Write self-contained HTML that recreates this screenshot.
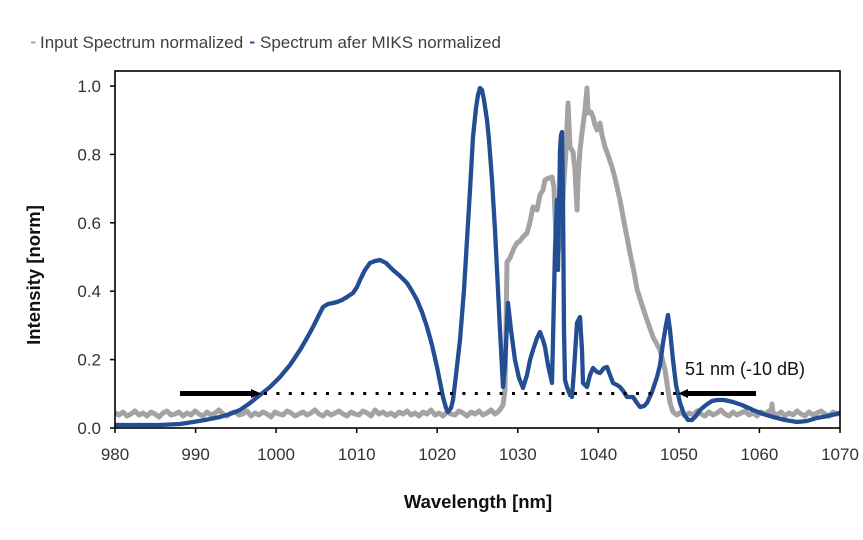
<!DOCTYPE html>
<html>
<head>
<meta charset="utf-8">
<style>
  html,body{margin:0;padding:0;background:#fff;}
  svg{display:block;}
  text{font-family:"Liberation Sans",Arial,sans-serif;}
</style>
</head>
<body>
<svg width="863" height="540" viewBox="0 0 863 540" xmlns="http://www.w3.org/2000/svg">
  <rect width="863" height="540" fill="#fff"/>

  <!-- Legend -->
  <rect x="31" y="41.5" width="4.5" height="2" fill="#a3a3a3"/>
  <text x="40" y="48" font-size="17" fill="#404040">Input Spectrum normalized</text>
  <rect x="250" y="41.5" width="4.5" height="2" fill="#234e93"/>
  <text x="260" y="48" font-size="17" fill="#404040">Spectrum afer MIKS normalized</text>

  <!-- Gray input spectrum -->
  <polyline fill="none" stroke="#a3a3a3" stroke-width="5" stroke-linejoin="round" points="
    115,413 119,415 123,412 127,416 131,414 135,411 139,415 143,413 147,416 151,412 155,414 159,417 163,413 167,411 171,415 175,414 179,412 183,416 187,413 191,415 195,411 199,414 203,416 207,412 211,415 215,413 219,410 223,414 227,416 231,413 235,412 239,415 243,414 247,411 251,416 255,413 259,415 263,412 267,414 271,417 275,412 279,414 283,415 287,411 291,413 295,416 299,414 303,412 307,415 311,413 315,410 319,414 323,416 327,412 331,415 335,413 339,411 343,414 347,416 351,412 355,414 359,415 363,411 367,413 371,416 375,410 379,414 383,412 387,415 391,413 395,416 399,412 403,414 407,411 411,415 415,413 419,416 423,412 427,414 431,410 435,415 439,413 443,416 447,412 451,414 455,415 459,411 463,413 467,416 471,412 475,414 479,411 483,415 487,413 491,410 495,414 499,411 503,405 505,390 506,330 507,262 510,258 514,248 517,243 520,241 523,237 527,233 530,222 533,207 537,210 540,195 543,190 545,180 549,178 552,177 554,187 556,240 558,253 561,230 564,180 566,150 568,103 570,147 573,152 575,170 577,210 578,180 580,150 582,133 585,110 587,88 588,113 591,112 593,117 595,125 597,130 600,123 602,135 605,147 608,155 612,167 615,178 617,187 620,200 624,222 627,237 630,253 634,272 637,289 642,305 647,320 653,337 660,350 665,370 668,390 670,403 673,412 677,415 681,412 685,416 689,413 693,415 697,411 701,414 705,416 709,412 713,415 717,413 721,410 725,414 729,416 733,412 737,415 741,413 745,411 749,415 753,413 757,416 761,412 765,414 769,411 771,412 772,404 773,413 777,415 781,412 785,416 789,413 793,415 797,411 801,414 805,416 809,412 813,415 817,413 821,411 825,414 829,416 833,412 837,414 840,413"/>

  <!-- Blue after MIKS -->
  <polyline fill="none" stroke="#234e93" stroke-width="4.3" stroke-linejoin="round" points="
    115,425 140,425 160,425 180,424 193,422 205,420 220,417 230,414 240,410 250,403 260,395 270,387 280,377 290,365 300,350 307,338 313,327 318,317 323,307 328,304 333,303 337,302 342,300 347,297 353,293 357,287 360,280 365,270 370,263 375,261 380,260 386,263 393,270 400,276 407,283 412,291 417,300 422,312 427,327 432,345 437,367 440,382 443,397 446,408 448,412 451,408 453,400 456,375 460,340 464,290 467,240 470,190 473,137 476,108 478,95 480,88 482,90 484,100 487,120 489,140 492,180 495,230 497,270 500,330 503,387 505,365 508,303 511,330 515,360 519,378 523,388 527,375 530,360 533,350 537,338 540,332 543,340 545,347 548,365 552,383 553,340 555,250 557,200 558,270 559,210 560,150 561,135 562,132 563,200 564,330 565,380 567,387 570,395 572,397 574,370 577,323 580,317 582,350 583,383 587,387 590,375 593,368 597,372 600,373 604,368 607,367 610,375 613,383 617,385 620,387 624,392 627,397 633,397 637,403 640,407 644,406 647,403 652,392 657,377 660,365 663,343 666,325 668,315 670,330 673,360 676,385 680,403 684,414 688,420 692,420 696,416 700,410 706,405 712,401 717,400 724,400 733,402 742,405 753,410 763,414 773,417 785,420 797,422 807,421 817,418 828,416 840,413"/>

  <!-- Dotted -10 dB line -->
  <line x1="264" y1="393.5" x2="676" y2="393.5" stroke="#000" stroke-width="3" stroke-dasharray="3 9.4"/>

  <!-- Left arrow -->
  <line x1="180" y1="393.5" x2="253" y2="393.5" stroke="#000" stroke-width="5"/>
  <polygon points="251,389 261,393.5 251,398" fill="#000"/>
  <!-- Right arrow -->
  <line x1="686" y1="393.5" x2="756" y2="393.5" stroke="#000" stroke-width="5"/>
  <polygon points="688,389 678,393.5 688,398" fill="#000"/>

  <text x="685" y="375" font-size="18" fill="#111">51 nm (-10 dB)</text>

  <!-- Frame -->
  <rect x="115" y="71" width="725" height="357" fill="none" stroke="#000" stroke-width="1.6"/>

  <!-- Y ticks -->
  <g stroke="#000" stroke-width="1.5">
    <line x1="110" y1="428" x2="115" y2="428"/>
    <line x1="110" y1="359.6" x2="115" y2="359.6"/>
    <line x1="110" y1="291.2" x2="115" y2="291.2"/>
    <line x1="110" y1="222.8" x2="115" y2="222.8"/>
    <line x1="110" y1="154.4" x2="115" y2="154.4"/>
    <line x1="110" y1="86" x2="115" y2="86"/>
  </g>
  <g font-size="17" fill="#333" text-anchor="end">
    <text x="101" y="434">0.0</text>
    <text x="101" y="365.6">0.2</text>
    <text x="101" y="297.2">0.4</text>
    <text x="101" y="228.8">0.6</text>
    <text x="101" y="160.4">0.8</text>
    <text x="101" y="92">1.0</text>
  </g>

  <!-- X ticks -->
  <g stroke="#000" stroke-width="1.5">
    <line x1="115" y1="428" x2="115" y2="433"/>
    <line x1="195.6" y1="428" x2="195.6" y2="433"/>
    <line x1="276.1" y1="428" x2="276.1" y2="433"/>
    <line x1="356.7" y1="428" x2="356.7" y2="433"/>
    <line x1="437.2" y1="428" x2="437.2" y2="433"/>
    <line x1="517.8" y1="428" x2="517.8" y2="433"/>
    <line x1="598.3" y1="428" x2="598.3" y2="433"/>
    <line x1="678.9" y1="428" x2="678.9" y2="433"/>
    <line x1="759.4" y1="428" x2="759.4" y2="433"/>
    <line x1="840" y1="428" x2="840" y2="433"/>
  </g>
  <g font-size="17" fill="#333" text-anchor="middle">
    <text x="115" y="460">980</text>
    <text x="195.6" y="460">990</text>
    <text x="276.1" y="460">1000</text>
    <text x="356.7" y="460">1010</text>
    <text x="437.2" y="460">1020</text>
    <text x="517.8" y="460">1030</text>
    <text x="598.3" y="460">1040</text>
    <text x="678.9" y="460">1050</text>
    <text x="759.4" y="460">1060</text>
    <text x="840" y="460">1070</text>
  </g>

  <!-- Axis titles -->
  <text x="478" y="508" font-size="18.5" font-weight="bold" fill="#111" text-anchor="middle">Wavelength [nm]</text>
  <text transform="translate(40,275) rotate(-90)" font-size="18.5" font-weight="bold" fill="#111" text-anchor="middle">Intensity [norm]</text>
</svg>
</body>
</html>
